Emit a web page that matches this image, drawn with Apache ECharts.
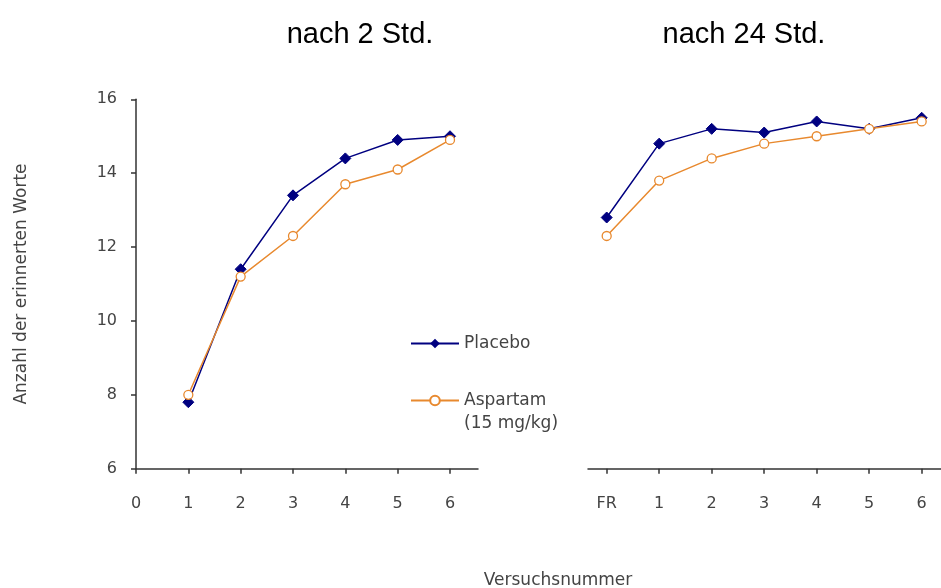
<!DOCTYPE html>
<html><head><meta charset="utf-8">
<script src="https://cdn.jsdelivr.net/npm/echarts@6/dist/echarts.min.js"></script>
<style>html,body{margin:0;padding:0;background:#fff}#c{width:941px;height:588px}</style>
</head><body><div id="c"></div>
<script>
// ---- data ----
const leftTrials = [1, 2, 3, 4, 5, 6];
const leftTickLabels = [0, 1, 2, 3, 4, 5, 6];
const leftPlacebo = [7.8, 11.4, 13.4, 14.4, 14.9, 15.0];
const leftAspartam = [8.0, 11.2, 12.3, 13.7, 14.1, 14.9];

const rightCategories = ['FR', '1', '2', '3', '4', '5', '6'];
const rightPlacebo = [12.8, 14.8, 15.2, 15.1, 15.4, 15.2, 15.5];
const rightAspartam = [12.3, 13.8, 14.4, 14.8, 15.0, 15.2, 15.4];

const yTicks = [6, 8, 10, 12, 14, 16];
const titles = ['nach 2 Std.', 'nach 24 Std.'];
const yName = 'Anzahl der erinnerten Worte';
const xName = 'Versuchsnummer';
const names = ['Placebo', 'Aspartam'];

// ---- styles ----
const navy = '#000080';
const orange = '#E8892E';
const axisCol = '#333';
const labCol = '#444';
const smallFont = 'DejaVu Sans';

const chart = echarts.init(document.getElementById('c'));
const leftIdx = leftTickLabels.slice();
const rightIdx = rightCategories.map((c, i) => i);

const yCommon = {
  type: 'value', min: yTicks[0], max: yTicks[yTicks.length - 1], interval: 2,
  splitLine: { show: false }
};

chart.setOption({
  animation: false,
  title: [
    { text: titles[0], left: 355, top: 15, textAlign: 'center',
      textStyle: { fontFamily: 'Liberation Sans', fontSize: 29, fontWeight: 'normal', color: '#000' } },
    { text: titles[1], left: 739, top: 15, textAlign: 'center',
      textStyle: { fontFamily: 'Liberation Sans', fontSize: 29, fontWeight: 'normal', color: '#000' } },
    { text: xName, left: 553, top: 567, textAlign: 'center',
      textStyle: { fontFamily: smallFont, fontSize: 17, fontWeight: 'normal', color: labCol } }
  ],
  legend: {
    orient: 'vertical', left: 410, top: 332, padding: 0, itemGap: 11,
    itemWidth: 48, itemHeight: 12,
    data: names,
    formatter: n => n === names[1] ? '\u200b\n' + n + '\n(15 mg/kg)' : n,
    textStyle: { fontFamily: smallFont, fontSize: 17, color: labCol, lineHeight: 23 }
  },
  grid: [
    { left: 136, top: 99.3, width: 342, height: 369.4 },
    { left: 588, top: 99.3, width: 353, height: 369.4 }
  ],
  xAxis: [
    { gridIndex: 0, type: 'value', min: 0, max: 6.535,
      axisLine: { show: true, lineStyle: { color: axisCol, width: 1.5 } },
      axisTick: { show: true, length: 5, customValues: leftIdx, lineStyle: { color: axisCol, width: 1.5 } },
      axisLabel: { customValues: leftIdx, margin: 27, color: labCol, fontFamily: smallFont, fontSize: 16,
        formatter: v => String(v) },
      splitLine: { show: false } },
    { gridIndex: 1, type: 'value', min: -0.356, max: 6.368,
      axisLine: { show: true, onZero: false, lineStyle: { color: axisCol, width: 1.5 } },
      axisTick: { show: true, length: 5, customValues: rightIdx, lineStyle: { color: axisCol, width: 1.5 } },
      axisLabel: { customValues: rightIdx, margin: 27, color: labCol, fontFamily: smallFont, fontSize: 16,
        formatter: v => rightCategories[Math.round(v)] },
      splitLine: { show: false } }
  ],
  yAxis: [
    Object.assign({ gridIndex: 0,
      name: yName, nameLocation: 'middle', nameGap: 106, nameRotate: 90,
      nameTextStyle: { fontFamily: smallFont, fontSize: 17, color: labCol },
      axisLine: { show: true, lineStyle: { color: axisCol, width: 1.5 } },
      axisTick: { show: true, length: 5, lineStyle: { color: axisCol, width: 1.5 } },
      axisLabel: { margin: 19, color: labCol, fontFamily: smallFont, fontSize: 16 } }, yCommon),
    Object.assign({ gridIndex: 1, show: false }, yCommon)
  ],
  series: [
    { name: names[0], type: 'line', xAxisIndex: 0, yAxisIndex: 0,
      data: leftTrials.map((t, i) => [t, leftPlacebo[i]]),
      symbol: 'diamond', symbolSize: 11, lineStyle: { color: navy, width: 1.5 },
      itemStyle: { color: navy, borderColor: navy }, z: 3 },
    { name: names[1], type: 'line', xAxisIndex: 0, yAxisIndex: 0,
      data: leftTrials.map((t, i) => [t, leftAspartam[i]]),
      symbol: 'circle', symbolSize: 9, lineStyle: { color: orange, width: 1.5 },
      itemStyle: { color: '#fff', borderColor: orange, borderWidth: 1.3 }, z: 4 },
    { name: names[0], type: 'line', xAxisIndex: 1, yAxisIndex: 1,
      data: rightIdx.map((t, i) => [t, rightPlacebo[i]]),
      symbol: 'diamond', symbolSize: 11, lineStyle: { color: navy, width: 1.5 },
      itemStyle: { color: navy, borderColor: navy }, z: 3 },
    { name: names[1], type: 'line', xAxisIndex: 1, yAxisIndex: 1,
      data: rightIdx.map((t, i) => [t, rightAspartam[i]]),
      symbol: 'circle', symbolSize: 9, lineStyle: { color: orange, width: 1.5 },
      itemStyle: { color: '#fff', borderColor: orange, borderWidth: 1.3 }, z: 4 }
  ]
});
</script></body></html>
